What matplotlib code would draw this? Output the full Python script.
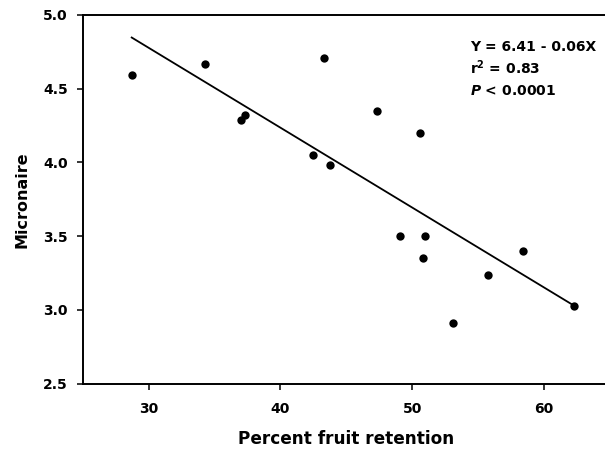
import numpy as np
import matplotlib
matplotlib.use("Agg")
import matplotlib.pyplot as plt

plt.rcParams['font.family'] = ['DejaVu Sans']
plt.rcParams['font.weight'] = 'bold'
plt.rcParams['mathtext.fontset'] = 'dejavusans'

# Data
retention = [28.7, 34.3, 37.0, 37.3, 42.5, 43.3, 43.8, 47.3,
             49.1, 50.6, 50.8, 51.0, 53.1, 55.8, 58.4, 62.3]
micronaire = [4.59, 4.67, 4.29, 4.32, 4.05, 4.71, 3.98, 4.35,
              3.50, 4.20, 3.35, 3.50, 2.91, 3.24, 3.40, 3.03]

# fitted line as drawn
fit_intercept = 6.40
fit_slope = -0.0541

fig = plt.figure(figsize=(6.05, 4.55), dpi=100)
ax = fig.add_axes([83 / 605, 71.3 / 455, 526.5 / 605, 368.7 / 455])

ax.scatter(retention, micronaire, s=36, color='black', zorder=3, linewidths=0)

xs = np.array([min(retention), max(retention)])
ax.plot(xs, fit_intercept + fit_slope * xs, color='black', lw=1.3)

ax.set_xlim(25, 65)
ax.set_ylim(2.5, 5.0)
ax.set_xticks([30, 40, 50, 60])
ax.set_yticks([2.5, 3.0, 3.5, 4.0, 4.5, 5.0])
ax.set_yticklabels(['2.5', '3.0', '3.5', '4.0', '4.5', '5.0'])

for sp in ax.spines.values():
    sp.set_linewidth(1.4)
ax.tick_params(direction='out', length=4, width=1.1, labelsize=10,
               top=False, right=False)
ax.tick_params(axis='x', pad=9)
ax.tick_params(axis='y', pad=7)

ax.set_xlabel('Percent fruit retention', fontsize=12.2, fontweight='bold', labelpad=10)
ax.set_ylabel('Micronaire', fontsize=11.5, fontweight='bold', labelpad=10)

fig.text(470 / 605, 1 - 50.7 / 455, 'Y = 6.41 - 0.06X', fontsize=10, fontweight='bold')
fig.text(470 / 605, 1 - 74 / 455, r'r$^\mathbf{2}$ = 0.83', fontsize=10, fontweight='bold')
fig.text(470 / 605, 1 - 95 / 455, r'$\mathbfit{P}$ < 0.0001', fontsize=10, fontweight='bold')

fig.savefig('out.png', dpi=100)
